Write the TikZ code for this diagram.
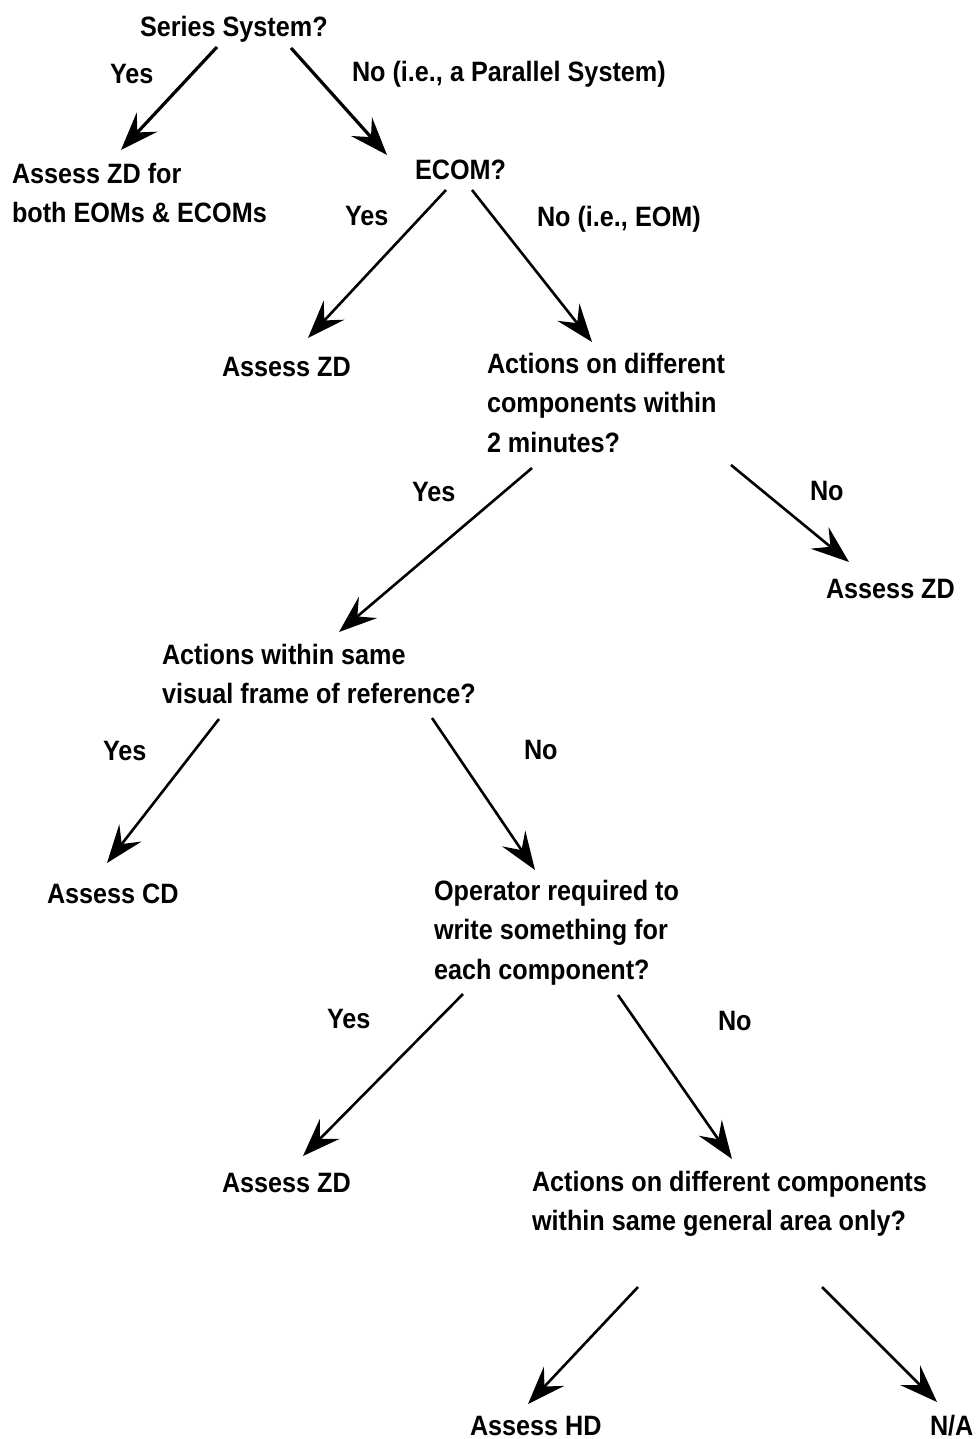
\documentclass[tikz,border=0pt]{standalone}
\usepackage{fontspec}
\setmainfont{Liberation Sans}[FakeStretch=0.9]
\usetikzlibrary{arrows.meta}
\begin{document}
\begin{tikzpicture}[x=0.5pt,y=-0.5pt,
  txt/.style={inner sep=0pt,outer sep=0pt,anchor=base west,font=\fontsize{14}{19.75}\selectfont\bfseries},
  mtxt/.style={inner sep=0pt,outer sep=0pt,anchor=north west,align=left,font=\fontsize{14}{19.75}\selectfont\bfseries},
  arr/.style={line width=1.3pt,-{Stealth[length=19pt,width=14pt,inset=7pt]}}]
\useasboundingbox (0,0) rectangle (976,1439);
\node[txt] (q1) at (140,37) {Series System?};
\node[txt] (y1) at (110,84) {Yes};
\node[txt] (n1) at (352,82) {No (i.e., a Parallel System)};
\node[mtxt] (a1) at (12,163) {Assess ZD for\\both EOMs \& ECOMs};
\node[txt] (q2) at (415,180) {ECOM?};
\node[txt] (y2) at (345,226) {Yes};
\node[txt] (n2) at (537,227) {No (i.e., EOM)};
\node[txt] (a2) at (222,376) {Assess ZD};
\node[mtxt] (q3) at (487,353) {Actions on different\\components within\\2 minutes?};
\node[txt] (y3) at (412,501) {Yes};
\node[txt] (n3) at (810,500) {No};
\node[txt] (a3) at (826,598) {Assess ZD};
\node[mtxt] (q4) at (162,644) {Actions within same\\visual frame of reference?};
\node[txt] (y4) at (103,760) {Yes};
\node[txt] (n4) at (524,759) {No};
\node[txt] (a4) at (47,903) {Assess CD};
\node[mtxt] (q5) at (434,880) {Operator required to\\write something for\\each component?};
\node[txt] (y5) at (327,1028) {Yes};
\node[txt] (n5) at (718,1030) {No};
\node[txt] (a5) at (222,1192) {Assess ZD};
\node[mtxt] (q6) at (532,1171) {Actions on different components\\within same general area only?};
\node[txt] (a6) at (470,1435) {Assess HD};
\node[txt] (a7) at (930,1435) {N/A};
% connector end points
\coordinate (s1) at (217,47);  \coordinate (t1) at (121,150);
\coordinate (s2) at (291,48);  \coordinate (t2) at (387,155);
\coordinate (s3) at (446,190); \coordinate (t3) at (308,338);
\coordinate (s4) at (472,190); \coordinate (t4) at (592,342);
\coordinate (s5) at (532,468); \coordinate (t5) at (339,632);
\coordinate (s6) at (731,465); \coordinate (t6) at (849,562);
\coordinate (s7) at (219,719); \coordinate (t7) at (107,863);
\coordinate (s8) at (432,718); \coordinate (t8) at (535,870);
\coordinate (s9) at (463,994); \coordinate (t9) at (303,1156);
\coordinate (s10) at (618,995); \coordinate (t10) at (732,1159);
\coordinate (s11) at (638,1287); \coordinate (t11) at (528,1404);
\coordinate (s12) at (822,1287); \coordinate (t12) at (937,1402);
\draw[arr,line width=1.6pt] (s1) -- (t1);
\draw[arr,line width=1.6pt] (s2) -- (t2);
\draw[arr] (s3) -- (t3);
\draw[arr] (s4) -- (t4);
\draw[arr] (s5) -- (t5);
\draw[arr] (s6) -- (t6);
\draw[arr] (s7) -- (t7);
\draw[arr] (s8) -- (t8);
\draw[arr] (s9) -- (t9);
\draw[arr] (s10) -- (t10);
\draw[arr] (s11) -- (t11);
\draw[arr] (s12) -- (t12);
\end{tikzpicture}
\end{document}
